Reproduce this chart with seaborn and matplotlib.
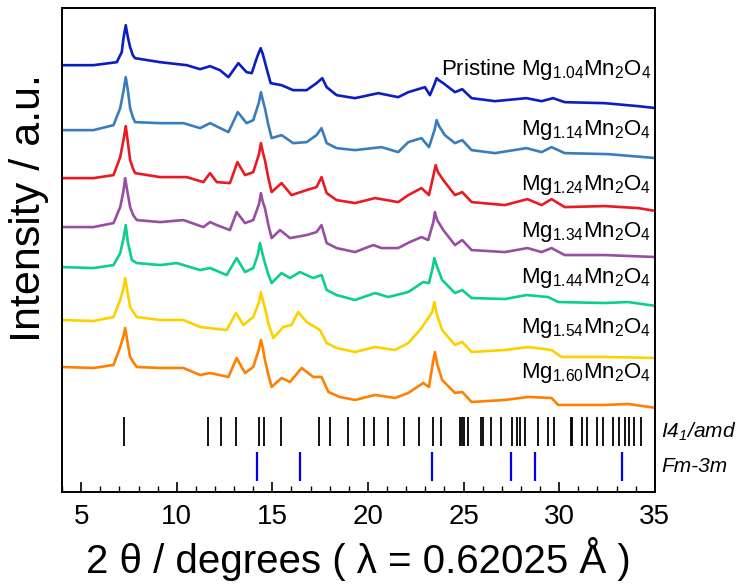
import matplotlib
matplotlib.use("Agg")
import matplotlib.pyplot as plt
import numpy as np
import pandas as pd
import seaborn as sns

# stacked XRD patterns (offset already included)
x_104 = [3.99, 5.64, 6.86, 7.12, 7.22, 7.33, 7.44, 7.56, 7.7, 7.82, 9.13, 10.52, 11.22, 11.74, 12.26,
         12.70, 13.22, 13.65, 13.92, 14.18, 14.3, 14.39, 14.5, 14.61, 14.75, 14.91, 15.48, 16.09, 16.79,
         17.31, 17.61, 17.84, 18.36, 19.32, 20.54, 21.58, 22.11, 22.80, 22.98, 23.24, 23.48, 23.59, 23.7,
         23.94, 24.55, 24.93, 25.42, 26.64, 28.29, 29.08, 29.68, 30.29, 32.38, 34.13, 35.08]
y_104 = [427, 427, 430, 440, 455, 467, 455, 445, 437, 434, 430, 427, 423, 426, 422,
         415, 429, 420, 419, 434, 440, 444, 438, 430, 420, 409, 407, 402, 402,
         409, 414, 405, 397, 394, 399, 395, 400, 404, 405, 397, 408, 414, 412,
         409, 400, 403, 394, 391, 394, 391, 394, 390, 389, 386, 384]

x_114 = [3.99, 5.64, 6.69, 7.04, 7.22, 7.33, 7.44, 7.56, 7.7, 7.82, 9.13, 10.35, 11.22, 11.74, 12.70,
         13.19, 13.65, 14.0, 14.3, 14.40, 14.5, 14.61, 14.78, 14.96, 15.48, 16.09, 16.79, 17.31, 17.57,
         17.84, 18.36, 19.32, 20.71, 21.58, 22.11, 22.80, 23.19, 23.48, 23.59, 23.72, 24.02, 24.55, 24.93,
         25.42, 26.64, 28.29, 29.08, 29.6, 30.29, 32.56, 35.08]
y_114 = [362, 362, 367, 384, 402, 415, 402, 384, 375, 370, 369, 369, 364, 369, 360,
         380, 369, 372, 390, 400, 392, 384, 368, 354, 357, 349, 350, 357, 364,
         349, 344, 342, 345, 340, 350, 354, 345, 362, 372, 366, 357, 349, 352,
         342, 339, 344, 340, 345, 339, 338, 334]

x_124 = [3.99, 5.64, 6.69, 7.04, 7.22, 7.33, 7.44, 7.56, 7.7, 7.82, 9.13, 10.52, 11.39, 11.74, 12.09,
         12.78, 13.17, 13.57, 14.0, 14.3, 14.40, 14.5, 14.61, 14.78, 14.96, 15.48, 16.0, 16.79, 17.31,
         17.57, 17.84, 18.36, 19.32, 20.37, 21.58, 22.11, 22.80, 23.19, 23.44, 23.54, 23.66, 23.94, 24.55,
         24.93, 25.42, 27.16, 28.34, 29.08, 29.6, 30.29, 32.38, 34.13, 35.08]
y_124 = [314, 314, 317, 335, 353, 366, 350, 332, 324, 319, 315, 315, 310, 319, 310,
         309, 330, 317, 320, 338, 349, 340, 332, 315, 300, 309, 297, 302, 305,
         315, 299, 292, 289, 294, 290, 297, 304, 297, 318, 327, 320, 312, 297,
         300, 290, 287, 293, 287, 293, 285, 286, 284, 281]

x_134 = [3.99, 5.64, 6.69, 7.04, 7.2, 7.30, 7.42, 7.56, 7.72, 7.91, 9.13, 10.35, 11.39, 11.74, 12.09,
         12.78, 13.13, 13.57, 14.0, 14.3, 14.40, 14.5, 14.61, 14.78, 14.96, 15.40, 15.92, 16.79, 17.31,
         17.57, 17.84, 18.36, 19.32, 20.28, 20.71, 21.58, 22.19, 22.80, 23.15, 23.42, 23.50, 23.62, 23.94,
         24.55, 24.93, 25.42, 27.16, 28.34, 29.08, 29.6, 30.29, 32.38, 35.08]
y_134 = [265, 265, 269, 285, 300, 314, 300, 285, 277, 272, 270, 272, 265, 270, 267,
         262, 280, 269, 272, 288, 299, 290, 284, 268, 254, 262, 254, 257, 260,
         267, 249, 244, 240, 247, 244, 244, 250, 255, 252, 270, 280, 272, 262,
         247, 252, 242, 240, 244, 240, 244, 237, 237, 235]

x_144 = [3.99, 5.64, 6.69, 7.04, 7.22, 7.33, 7.44, 7.65, 7.91, 9.13, 10.0, 11.22, 11.74, 12.61, 13.13,
         13.57, 14.0, 14.25, 14.35, 14.46, 14.61, 14.78, 14.96, 15.48, 15.92, 16.44, 17.14, 17.57, 17.84,
         18.36, 19.32, 20.37, 21.06, 22.11, 22.89, 23.19, 23.38, 23.47, 23.6, 23.88, 24.55, 24.93, 25.42,
         27.16, 28.29, 29.42, 29.95, 32.38, 33.6, 35.08]
y_144 = [225, 224, 227, 239, 254, 267, 250, 232, 229, 227, 229, 222, 224, 217, 234,
         220, 224, 238, 249, 240, 229, 218, 209, 219, 214, 220, 214, 217, 202,
         197, 192, 199, 195, 200, 210, 209, 224, 234, 226, 212, 199, 202, 194,
         193, 197, 195, 190, 189, 190, 186]

x_154 = [3.99, 5.64, 6.69, 7.04, 7.2, 7.30, 7.42, 7.56, 7.72, 7.91, 9.13, 10.35, 11.22, 12.61, 13.10,
         13.48, 14.0, 14.3, 14.40, 14.5, 14.61, 14.8, 15.05, 15.57, 16.0, 16.35, 16.79, 17.14, 17.49,
         17.84, 18.36, 19.32, 20.37, 21.41, 22.11, 22.80, 23.36, 23.47, 23.6, 23.88, 24.55, 24.93, 25.42,
         27.16, 28.38, 29.6, 30.12, 32.38, 35.08]
y_154 = [172, 171, 175, 192, 203, 214, 200, 185, 180, 175, 172, 172, 165, 162, 179,
         167, 175, 190, 200, 192, 184, 168, 154, 165, 167, 180, 170, 166, 162,
         149, 144, 140, 145, 142, 149, 164, 180, 190, 178, 162, 147, 150, 140,
         142, 145, 142, 135, 135, 134]

x_160 = [3.99, 5.64, 6.69, 7.04, 7.2, 7.30, 7.42, 7.56, 7.72, 7.91, 9.13, 10.35, 11.22, 11.74, 12.70,
         13.13, 13.57, 14.0, 14.3, 14.40, 14.5, 14.61, 14.78, 14.96, 15.48, 15.92, 16.53, 17.14, 17.57,
         17.93, 18.53, 19.32, 20.37, 21.41, 22.11, 22.89, 23.19, 23.4, 23.50, 23.62, 23.88, 24.55, 24.93,
         25.42, 27.16, 28.38, 29.6, 29.95, 32.38, 33.6, 35.08]
y_160 = [125, 124, 127, 145, 155, 164, 150, 135, 130, 125, 124, 124, 117, 119, 115,
         134, 119, 125, 143, 152, 144, 132, 118, 105, 114, 110, 124, 115, 115,
         100, 95, 92, 97, 94, 99, 109, 105, 130, 140, 128, 112, 99, 100,
         90, 92, 95, 94, 87, 87, 88, 84]

labels = ["Pristine Mg$_{1.04}$Mn$_2$O$_4$", "Mg$_{1.14}$Mn$_2$O$_4$", "Mg$_{1.24}$Mn$_2$O$_4$",
          "Mg$_{1.34}$Mn$_2$O$_4$", "Mg$_{1.44}$Mn$_2$O$_4$", "Mg$_{1.54}$Mn$_2$O$_4$",
          "Mg$_{1.60}$Mn$_2$O$_4$"]
label_y = [417, 357, 302, 255, 209, 159, 114]
colors = ["#0a1ec2", "#3a7dbd", "#e81a22", "#984ea3", "#0ccf8a", "#ffd000", "#ff8000"]

# reference reflections
i41amd_pos = [7.22, 11.63, 12.33, 13.10, 14.30, 14.58, 15.44, 17.46, 18.03, 18.95, 19.81, 20.31, 21.05,
              21.91, 22.66, 23.38, 23.84, 24.82, 24.92, 25.02, 25.22, 25.92, 26.02, 26.44, 26.94, 27.51,
              27.79, 27.93, 28.19, 28.87, 29.43, 29.73, 30.61, 30.65, 31.21, 31.45, 31.97, 32.31, 32.83,
              33.14, 33.42, 33.66, 33.90, 34.30]
fm3m_pos = [14.22, 16.46, 23.36, 27.47, 28.73, 33.28]

sns.set_theme(style="ticks")
plt.rcParams["font.family"] = ["Liberation Sans", "DejaVu Sans"]
plt.rcParams["mathtext.default"] = "regular"
plt.rcParams["text.color"] = "black"
plt.rcParams["axes.labelcolor"] = "black"
plt.rcParams["xtick.color"] = "black"

fig = plt.figure(figsize=(7.39, 5.87), dpi=100)
ax = fig.add_axes([0.084, 0.162, 0.802, 0.824])

series = [(x_104, y_104), (x_114, y_114), (x_124, y_124), (x_134, y_134),
          (x_144, y_144), (x_154, y_154), (x_160, y_160)]
for (xs, ys), c in zip(series, colors):
    df = pd.DataFrame({"theta": xs, "intensity": ys})
    sns.lineplot(data=df, x="theta", y="intensity", color=c, lw=1.9, estimator=None, ax=ax)

for lab, ly in zip(labels, label_y):
    ax.text(34.8, ly, lab, ha="right", va="baseline", fontsize=16)

ax.vlines(i41amd_pos, 46, 75, color="black", lw=1.3)
ax.vlines(fm3m_pos, 11, 40, color="#0000ee", lw=1.6)
ax.text(35.35, 60, "I4$_1$/amd", ha="left", va="center", fontsize=15, style="italic", clip_on=False)
ax.text(35.35, 25, "Fm-3m", ha="left", va="center", fontsize=15, style="italic", clip_on=False)

ax.set_xlim(4, 35)
ax.set_ylim(0, 484)
ax.set_yticks([])
ax.set_xticks(np.arange(5, 36, 5))
ax.set_xticks(np.arange(4, 36, 1), minor=True)
ax.tick_params(axis="x", which="major", direction="in", length=7, width=1.2, labelsize=20, pad=9)
ax.tick_params(axis="x", which="minor", direction="in", length=4, width=1.0)
for s in ax.spines.values():
    s.set_color("black")
    s.set_linewidth(1.4)

ax.set_xlabel("2 θ / degrees ( λ = 0.62025 Å )", fontsize=29, labelpad=5)
ax.set_ylabel("Intensity / a.u.", fontsize=31)
ax.yaxis.set_label_coords(-0.022, 0.587)

fig.savefig("out.png", dpi=100)
